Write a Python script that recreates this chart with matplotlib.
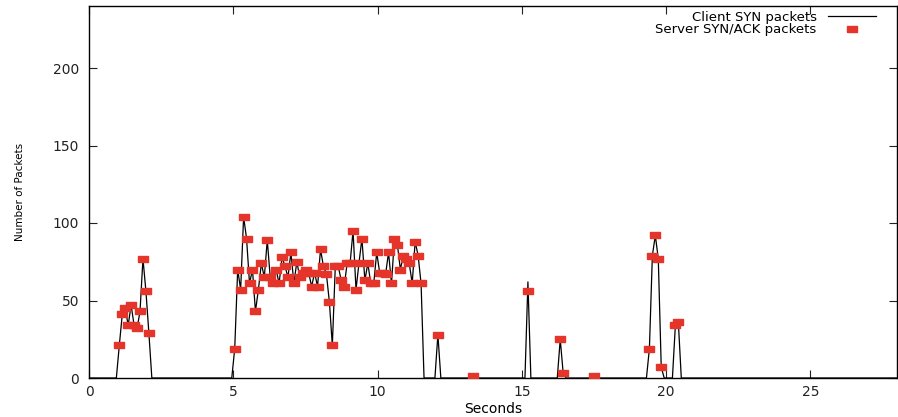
#SYN / SYN-ACK 包数随时间变化
from matplotlib import pyplot as plt
from matplotlib.lines import Line2D
import numpy as np

#数据: 每段突发的起始时间(秒), 每段内按固定间隔采样
step = 0.1025
burst_start = [1.05, 5.05, 12.09, 15.21, 16.33, 19.42, 20.32]

client_syn = [
    [21, 41, 45, 34, 47, 34, 32, 43, 77, 56, 29],
    [19, 70, 57, 104, 90, 61, 70, 43, 57, 74, 65, 89, 65, 61, 70, 61, 78, 72, 65, 81, 61,
     75, 65, 68, 70, 68, 59, 68, 59, 83, 72, 67, 49, 21, 72, 72, 63, 59, 74, 74, 95, 57,
     74, 90, 63, 74, 61, 61, 81, 68, 68, 67, 81, 61, 90, 86, 70, 79, 77, 74, 61, 88, 79, 61],
    [28],
    [62],
    [25, 3],
    [19, 79, 92, 77, 7],
    [34, 36],
]

server_synack = [
    [21, 41, 45, 34, 47, 34, 32, 43, 77, 56, 29],
    [19, 70, 57, 104, 90, 61, 70, 43, 57, 74, 65, 89, 65, 61, 70, 61, 78, 72, 65, 81, 61,
     75, 65, 68, 70, 68, 59, 68, 59, 83, 72, 67, 49, 21, 72, 72, 63, 59, 74, 74, 95, 57,
     74, 90, 63, 74, 61, 61, 81, 68, 68, 67, 81, 61, 90, 86, 70, 79, 77, 74, 61, 88, 79, 61],
    [28],
    [56],
    [25, 3],
    [19, 79, 92, 77, 7],
    [34, 36],
]

#零星的单个 SYN/ACK
lone_synack_t = [13.31, 17.51]
lone_synack_n = [1.5, 1.5]

#客户端折线: 每段前后补零
line_t = [0.0]
line_n = [0]
for t0, vals in zip(burst_start, client_syn):
    ts = t0 + step * np.arange(len(vals))
    line_t += [t0 - step] + list(ts) + [ts[-1] + step]
    line_n += [0] + vals + [0]
line_t.append(28.0)
line_n.append(0)

pt_t = []
pt_n = []
for t0, vals in zip(burst_start, server_synack):
    pt_t += list(t0 + step * np.arange(len(vals)))
    pt_n += vals
pt_t += lone_synack_t
pt_n += lone_synack_n

#扁长方形点
rect = [(-1, -0.65), (1, -0.65), (1, 0.65), (-1, 0.65), (-1, -0.65)]
red = "#e5352b"

plt.rcParams['font.family'] = ['DejaVu Sans']
fig = plt.figure(figsize=(8.98, 4.17), dpi=100)
ax = fig.add_axes([89/898, 1-378/417, (897-89)/898, (378-6)/417])

ax.plot(line_t, line_n, color="black", lw=0.9, zorder=2)
ax.plot(pt_t, pt_n, ls="none", marker=rect, ms=6.8, color=red, mec=red, zorder=3)

ax.set_xlim(0, 28)
ax.set_ylim(0, 240)
ax.set_xticks(range(0, 26, 5))
ax.set_yticks(range(0, 201, 50))
ax.tick_params(direction="in", length=6, width=0.8, top=True, right=True,
               labelsize=10, colors="#222222")
ax.tick_params(axis="x", pad=5)
ax.tick_params(axis="y", pad=7)
for s in ax.spines.values():
    s.set_linewidth(1.0)

ax.set_xlabel("Seconds", fontsize=10, labelpad=2)
ax.set_ylabel("Number of Packets", fontsize=7.5, labelpad=20)

#图例: 文字在左, 样例在右
handles = [Line2D([], [], color="black", lw=0.9),
           Line2D([], [], ls="none", marker=rect, ms=6.8, color=red, mec=red)]
ax.legend(handles, ["Client SYN packets", "Server SYN/ACK packets"],
          loc="upper right", bbox_to_anchor=(0.974, 0.987), frameon=False,
          markerfirst=False, fontsize=9.5,
          handlelength=3.6, handletextpad=0.9, labelspacing=-0.05,
          borderaxespad=0.0, borderpad=0.0)

plt.savefig("out.png", dpi=100)
